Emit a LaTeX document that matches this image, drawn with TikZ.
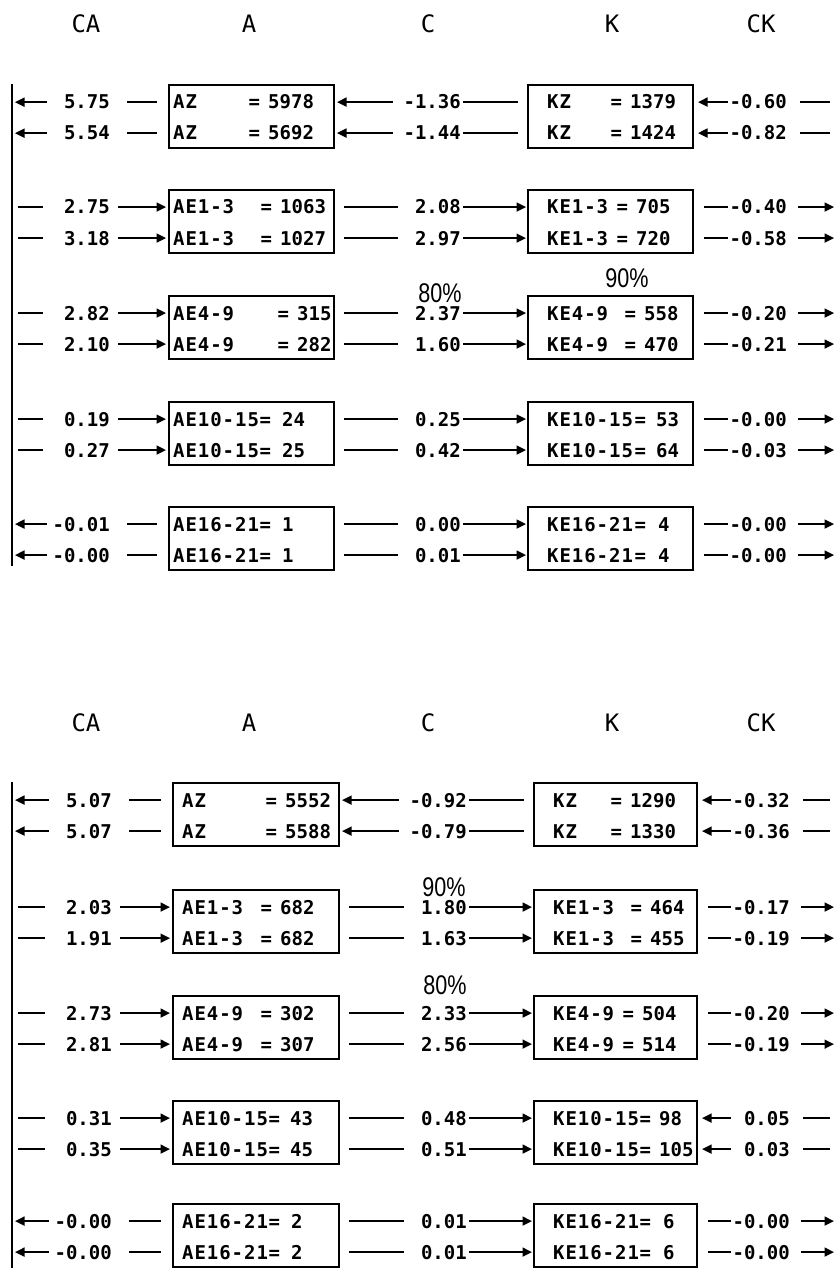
\documentclass[tikz,border=0pt]{standalone}
\usepackage{fontspec}
\usetikzlibrary{arrows.meta}
\newfontfamily\dmfont{DejaVu Sans Mono}
\newfontfamily\dmlab{DejaVu Sans Mono}[LetterSpace=5]
\newfontfamily\pctfont{Liberation Sans}
\newcount\tcnt
\tikzset{
  num/.style={font=\dmfont\bfseries\fontsize{19}{22}\selectfont, inner sep=0pt},
  txt/.style={font=\dmfont\bfseries\fontsize{19}{22}\selectfont, inner sep=0pt},
  lbl/.style={font=\dmlab\bfseries\fontsize{19}{22}\selectfont, inner sep=0pt},
  hdr/.style={font=\dmfont\fontsize{24}{28}\selectfont, inner sep=0pt},
  pcent/.style={font=\pctfont\fontsize{27}{30}\selectfont, inner sep=0pt},
  conn/.style={line width=1.6pt},
  tip/.style={-{Triangle[length=9.5pt,width=9pt]}},
  box/.style={draw, line width=2pt, inner sep=0pt, anchor=north west},
  vline/.style={line width=2.2pt},
}
% box node
\newcommand\mkbox[4]{\node[box, minimum width=#4pt, minimum height=63pt] (#1) at (#2,#3-18) {};}
% text inside boxes: x, y, text, style
\newcommand\btext[4]{\global\advance\tcnt by 1 \edef\tname{t\the\tcnt}\node[#4, anchor=base west] (\tname) at (#1,#2+7) {#3};}
% row: y, label x, label, "=" centre x, value x, value
\newcommand\rowEq[6]{\btext{#2}{#1}{#3}{lbl}\btext{#4-5.7}{#1}{=}{txt}\btext{#5}{#1}{#6}{txt}}
% CA column
\newcommand\CAin[4]{%
  \node[num, anchor=base east] (#1) at (\caR,#2+7) {\makebox[57pt][r]{#3}};
  \draw[conn, shorten <=6pt, shorten >=10pt] (VL |- #1) -- (#1.west);
  \draw[conn, tip, shorten <=8pt, shorten >=2pt] (#1.east) -- (#4.west |- #1);}
\newcommand\CAout[4]{%
  \node[num, anchor=base east] (#1) at (\caR,#2+7) {\makebox[57pt][r]{#3}};
  \draw[conn, tip, shorten <=6pt, shorten >=3pt] (#1.west) -- (VL |- #1);
  \draw[conn, shorten <=17pt, shorten >=11pt] (#1.east) -- (#4.west |- #1);}
% C column
\newcommand\Cneg[5]{%
  \node[num, anchor=base east] (#1) at (\cR,#2+7) {\makebox[57pt][r]{#3}};
  \draw[conn, tip, shorten <=11pt, shorten >=2pt] (#1.west) -- (#4.east |- #1);
  \draw[conn, shorten <=2pt, shorten >=9pt] (#1.east) -- (#5.west |- #1);}
\newcommand\Cpos[5]{%
  \node[num, anchor=base east] (#1) at (\cR,#2+7) {\makebox[57pt][r]{#3}};
  \draw[conn, shorten <=9pt, shorten >=6pt] (#4.east |- #1) -- (#1.west);
  \draw[conn, tip, shorten <=2pt, shorten >=1pt] (#1.east) -- (#5.west |- #1);}
% CK column
\newcommand\CKin[4]{%
  \node[num, anchor=base east] (#1) at (\ckR,#2+7) {\makebox[57pt][r]{#3}};
  \draw[conn, tip, shorten <=2pt, shorten >=4pt] (#1.west) -- (#4.east |- #1);
  \draw[conn, shorten <=13pt, shorten >=4pt] (#1.east) -- (RE |- #1);}
\newcommand\CKout[4]{%
  \node[num, anchor=base east] (#1) at (\ckR,#2+7) {\makebox[57pt][r]{#3}};
  \draw[conn, shorten <=10pt, shorten >=2pt] (#4.east |- #1) -- (#1.west);
  \draw[conn, tip, shorten <=11pt] (#1.east) -- (RE |- #1);}

\begin{document}
\begin{tikzpicture}[x=1pt,y=-1pt]
\fill[white] (0,0) rectangle (836,1268);
\useasboundingbox (0,0) rectangle (836,1268);
\coordinate (VL) at (12,0);
\coordinate (RE) at (834,0);

% ================= TOP PANEL =================
\node[hdr] (h1ca) at (86,24) {CA};
\node[hdr] (h1a) at (249,24) {A};
\node[hdr] (h1c) at (428,24) {C};
\node[hdr] (h1k) at (612,24) {K};
\node[hdr] (h1ck) at (761,24) {CK};
\coordinate (VLt1) at (12,84);
\coordinate (VLb1) at (12,566);
\draw[vline] (VLt1) -- (VLb1);
\def\caR{110}\def\cR{461}\def\ckR{787}

% group 1
\mkbox{A1g1}{168}{102}{165}\mkbox{K1g1}{527}{102}{165}
\rowEq{102}{173}{AZ}{254}{268}{5978}
\rowEq{133}{173}{AZ}{254}{268}{5692}
\rowEq{102}{547}{KZ}{616}{630}{1379}
\rowEq{133}{547}{KZ}{616}{630}{1424}
\CAout{ca1a}{102}{5.75}{A1g1}\CAout{ca1b}{133}{5.54}{A1g1}
\Cneg{c1a}{102}{-1.36}{A1g1}{K1g1}\Cneg{c1b}{133}{-1.44}{A1g1}{K1g1}
\CKin{ck1a}{102}{-0.60}{K1g1}\CKin{ck1b}{133}{-0.82}{K1g1}

% group 2
\mkbox{A1g2}{168}{207}{165}\mkbox{K1g2}{527}{207}{165}
\rowEq{207}{173}{AE1-3}{266}{280}{1063}
\rowEq{238}{173}{AE1-3}{266}{280}{1027}
\rowEq{207}{547}{KE1-3}{622}{636}{705}
\rowEq{238}{547}{KE1-3}{622}{636}{720}
\CAin{ca2a}{207}{2.75}{A1g2}\CAin{ca2b}{238}{3.18}{A1g2}
\Cpos{c2a}{207}{2.08}{A1g2}{K1g2}\Cpos{c2b}{238}{2.97}{A1g2}{K1g2}
\CKout{ck2a}{207}{-0.40}{K1g2}\CKout{ck2b}{238}{-0.58}{K1g2}

% group 3
\mkbox{A1g3}{168}{313}{165}\mkbox{K1g3}{527}{313}{165}
\rowEq{313}{173}{AE4-9}{283}{297}{315}
\rowEq{344}{173}{AE4-9}{283}{297}{282}
\rowEq{313}{547}{KE4-9}{630}{644}{558}
\rowEq{344}{547}{KE4-9}{630}{644}{470}
\CAin{ca3a}{313}{2.82}{A1g3}\CAin{ca3b}{344}{2.10}{A1g3}
\Cpos{c3a}{313}{2.37}{A1g3}{K1g3}\Cpos{c3b}{344}{1.60}{A1g3}{K1g3}
\CKout{ck3a}{313}{-0.20}{K1g3}\CKout{ck3b}{344}{-0.21}{K1g3}
\node[pcent] (p1a) at (440,293) {\scalebox{0.8}[1]{80\%}};
\node[pcent] (p1b) at (627,278) {\scalebox{0.8}[1]{90\%}};

% group 4
\mkbox{A1g4}{168}{419}{165}\mkbox{K1g4}{527}{419}{165}
\rowEq{419}{173}{AE10-15}{265}{282}{24}
\rowEq{450}{173}{AE10-15}{265}{282}{25}
\rowEq{419}{547}{KE10-15}{640}{656}{53}
\rowEq{450}{547}{KE10-15}{640}{656}{64}
\CAin{ca4a}{419}{0.19}{A1g4}\CAin{ca4b}{450}{0.27}{A1g4}
\Cpos{c4a}{419}{0.25}{A1g4}{K1g4}\Cpos{c4b}{450}{0.42}{A1g4}{K1g4}
\CKout{ck4a}{419}{-0.00}{K1g4}\CKout{ck4b}{450}{-0.03}{K1g4}

% group 5
\mkbox{A1g5}{168}{524}{165}\mkbox{K1g5}{527}{524}{165}
\rowEq{524}{173}{AE16-21}{265}{282}{1}
\rowEq{555}{173}{AE16-21}{265}{282}{1}
\rowEq{524}{547}{KE16-21}{640}{658}{4}
\rowEq{555}{547}{KE16-21}{640}{658}{4}
\CAout{ca5a}{524}{-0.01}{A1g5}\CAout{ca5b}{555}{-0.00}{A1g5}
\Cpos{c5a}{524}{0.00}{A1g5}{K1g5}\Cpos{c5b}{555}{0.01}{A1g5}{K1g5}
\CKout{ck5a}{524}{-0.00}{K1g5}\CKout{ck5b}{555}{-0.00}{K1g5}

% ================= BOTTOM PANEL =================
\node[hdr] (h2ca) at (86,723) {CA};
\node[hdr] (h2a) at (249,723) {A};
\node[hdr] (h2c) at (428,723) {C};
\node[hdr] (h2k) at (612,723) {K};
\node[hdr] (h2ck) at (761,723) {CK};
\coordinate (VLt2) at (12,782);
\coordinate (VLb2) at (12,1268);
\draw[vline] (VLt2) -- (VLb2);
\def\caR{112}\def\cR{467}\def\ckR{790}

% group 1
\mkbox{A2g1}{172}{800}{166}\mkbox{K2g1}{533}{800}{163}
\rowEq{800}{182}{AZ}{271}{285}{5552}
\rowEq{831}{182}{AZ}{271}{285}{5588}
\rowEq{800}{553}{KZ}{616}{630}{1290}
\rowEq{831}{553}{KZ}{616}{630}{1330}
\CAout{cb1a}{800}{5.07}{A2g1}\CAout{cb1b}{831}{5.07}{A2g1}
\Cneg{d1a}{800}{-0.92}{A2g1}{K2g1}\Cneg{d1b}{831}{-0.79}{A2g1}{K2g1}
\CKin{dk1a}{800}{-0.32}{K2g1}\CKin{dk1b}{831}{-0.36}{K2g1}

% group 2
\mkbox{A2g2}{172}{907}{166}\mkbox{K2g2}{533}{907}{163}
\rowEq{907}{182}{AE1-3}{266}{280}{682}
\rowEq{938}{182}{AE1-3}{266}{280}{682}
\rowEq{907}{553}{KE1-3}{636}{650}{464}
\rowEq{938}{553}{KE1-3}{636}{650}{455}
\CAin{cb2a}{907}{2.03}{A2g2}\CAin{cb2b}{938}{1.91}{A2g2}
\Cpos{d2a}{907}{1.80}{A2g2}{K2g2}\Cpos{d2b}{938}{1.63}{A2g2}{K2g2}
\CKout{dk2a}{907}{-0.17}{K2g2}\CKout{dk2b}{938}{-0.19}{K2g2}
\node[pcent] (p2a) at (444,887) {\scalebox{0.8}[1]{90\%}};

% group 3
\mkbox{A2g3}{172}{1013}{166}\mkbox{K2g3}{533}{1013}{163}
\rowEq{1013}{182}{AE4-9}{266}{280}{302}
\rowEq{1044}{182}{AE4-9}{266}{280}{307}
\rowEq{1013}{553}{KE4-9}{628}{642}{504}
\rowEq{1044}{553}{KE4-9}{628}{642}{514}
\CAin{cb3a}{1013}{2.73}{A2g3}\CAin{cb3b}{1044}{2.81}{A2g3}
\Cpos{d3a}{1013}{2.33}{A2g3}{K2g3}\Cpos{d3b}{1044}{2.56}{A2g3}{K2g3}
\CKout{dk3a}{1013}{-0.20}{K2g3}\CKout{dk3b}{1044}{-0.19}{K2g3}
\node[pcent] (p2b) at (445,985) {\scalebox{0.8}[1]{80\%}};

% group 4
\mkbox{A2g4}{172}{1118}{166}\mkbox{K2g4}{533}{1118}{163}
\rowEq{1118}{182}{AE10-15}{274}{290}{43}
\rowEq{1149}{182}{AE10-15}{274}{290}{45}
\rowEq{1118}{553}{KE10-15}{645}{659}{98}
\rowEq{1149}{553}{KE10-15}{645}{659}{105}
\CAin{cb4a}{1118}{0.31}{A2g4}\CAin{cb4b}{1149}{0.35}{A2g4}
\Cpos{d4a}{1118}{0.48}{A2g4}{K2g4}\Cpos{d4b}{1149}{0.51}{A2g4}{K2g4}
\CKin{dk4a}{1118}{0.05}{K2g4}\CKin{dk4b}{1149}{0.03}{K2g4}

% group 5
\mkbox{A2g5}{172}{1221}{166}\mkbox{K2g5}{533}{1221}{163}
\rowEq{1221}{182}{AE16-21}{274}{291}{2}
\rowEq{1252}{182}{AE16-21}{274}{291}{2}
\rowEq{1221}{553}{KE16-21}{645}{663}{6}
\rowEq{1252}{553}{KE16-21}{645}{663}{6}
\CAout{cb5a}{1221}{-0.00}{A2g5}\CAout{cb5b}{1252}{-0.00}{A2g5}
\Cpos{d5a}{1221}{0.01}{A2g5}{K2g5}\Cpos{d5b}{1252}{0.01}{A2g5}{K2g5}
\CKout{dk5a}{1221}{-0.00}{K2g5}\CKout{dk5b}{1252}{-0.00}{K2g5}
\end{tikzpicture}
\end{document}
